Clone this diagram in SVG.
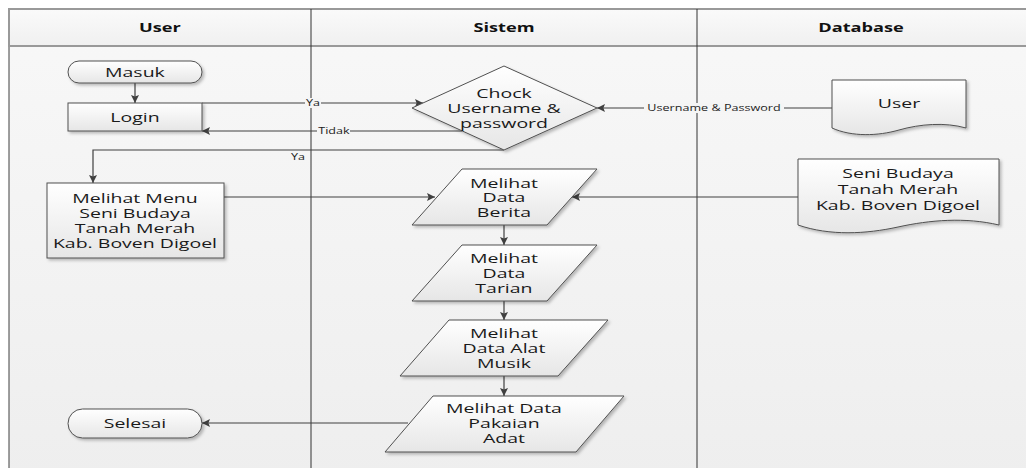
<svg xmlns="http://www.w3.org/2000/svg" width="1026" height="468" viewBox="0 0 1026 468">
<defs>
<linearGradient id="bg" x1="0" y1="0" x2="0" y2="1"><stop offset="0" stop-color="#f8f8f8"/><stop offset="1" stop-color="#eeeeee"/></linearGradient>
<linearGradient id="hd" x1="0" y1="0" x2="0" y2="1"><stop offset="0" stop-color="#fafafa"/><stop offset="1" stop-color="#f0f0f0"/></linearGradient>
<linearGradient id="sh" x1="0" y1="0" x2="0" y2="1"><stop offset="0" stop-color="#ffffff"/><stop offset="1" stop-color="#e6e6e6"/></linearGradient>
<filter id="ds" x="-10%" y="-10%" width="130%" height="140%"><feDropShadow dx="2" dy="2" stdDeviation="1.5" flood-color="#000" flood-opacity="0.25"/></filter>
<marker id="ar" viewBox="0 0 10 10" refX="10" refY="5" markerWidth="9" markerHeight="8" markerUnits="userSpaceOnUse" orient="auto"><path d="M0,0 L10,5 L0,10 L2,5 Z" fill="#404040"/></marker>
</defs>
<style>
.t{font-family:"Open Sans","DejaVu Sans",sans-serif;font-size:13px;fill:#1a1a1a;text-anchor:middle;transform-box:fill-box;transform-origin:center;transform:scaleX(1.5);}
.h{font-family:"Open Sans","DejaVu Sans",sans-serif;font-size:13px;font-weight:bold;fill:#111;text-anchor:middle;transform-box:fill-box;transform-origin:center;transform:scaleX(1.4);}
.l{font-family:"Open Sans","DejaVu Sans",sans-serif;font-size:9px;fill:#222;text-anchor:middle;transform-box:fill-box;transform-origin:center;transform:scaleX(1.4);}
.s{fill:url(#sh);stroke:#505050;stroke-width:1;filter:url(#ds);}
.c{fill:none;stroke:#404040;stroke-width:1.2;}
.a{marker-end:url(#ar);}
.lb{fill:#f5f5f5;}
</style>
<g id="pool">
<rect x="9" y="9" width="1030" height="470" fill="url(#bg)" stroke="#404040" stroke-width="1"/>
<rect x="9" y="9" width="1030" height="37" fill="url(#hd)" stroke="#999" stroke-width="2"/>
<line x1="311" y1="9" x2="311" y2="470" stroke="#333" stroke-width="1"/>
<line x1="697" y1="9" x2="697" y2="470" stroke="#333" stroke-width="1"/>
<text class="h" x="160" y="32">User</text>
<text class="h" x="504" y="32">Sistem</text>
<text class="h" x="861" y="32">Database</text>
</g>
<g id="connectors">
<path class="c a" d="M135,82 V103"/>
<path class="c a" d="M202,103 H423"/>
<rect class="lb" x="305" y="98" width="16" height="10"/>
<text class="l" x="313" y="106">Ya</text>
<path class="c a" d="M462,131 H202"/>
<rect class="lb" x="317" y="126" width="33" height="10"/>
<text class="l" x="334" y="134">Tidak</text>
<path class="c a" d="M504,150 H93 V183"/>
<text class="l" x="298" y="160">Ya</text>
<path class="c a" d="M832,108 H597"/>
<rect class="lb" x="644" y="103" width="140" height="10"/>
<text class="l" x="714" y="111">Username &amp; Password</text>
<path class="c a" d="M224,197 H435"/>
<path class="c a" d="M798,197 H572"/>
<path class="c a" d="M504,225 V245"/>
<path class="c a" d="M504,301 V320"/>
<path class="c a" d="M504,376 V396"/>
<path class="c a" d="M408,423 H202"/>
</g>
<g id="masuk">
<rect class="s" x="68" y="61" width="134" height="22" rx="11" ry="11"/>
<text class="t" x="135" y="77">Masuk</text>
</g>
<g id="login">
<rect class="s" x="68" y="103" width="134" height="28"/>
<text class="t" x="135" y="122">Login</text>
</g>
<g id="check">
<path class="s" d="M412,108 L504,66 L597,108 L504,150 Z"/>
<text class="t" x="504" y="98">Chock<tspan x="504" dy="15">Username &amp;</tspan><tspan x="504" dy="15">password</tspan></text>
</g>
<g id="menu">
<rect class="s" x="47" y="183" width="177" height="75"/>
<text class="t" x="135" y="203">Melihat Menu<tspan x="135" dy="15">Seni Budaya</tspan><tspan x="135" dy="15">Tanah Merah</tspan><tspan x="135" dy="15">Kab. Boven Digoel</tspan></text>
</g>
<g id="berita">
<path class="s" d="M462,169 H597 L547,225 H412 Z"/>
<text class="t" x="504" y="188">Melihat<tspan x="504" dy="14.5">Data</tspan><tspan x="504" dy="14.5">Berita</tspan></text>
</g>
<g id="tarian">
<path class="s" d="M462,245 H597 L547,301 H412 Z"/>
<text class="t" x="504" y="263">Melihat<tspan x="504" dy="15">Data</tspan><tspan x="504" dy="15">Tarian</tspan></text>
</g>
<g id="alat">
<path class="s" d="M449,320 H608 L558,376 H400 Z"/>
<text class="t" x="504" y="338">Melihat<tspan x="504" dy="15">Data Alat</tspan><tspan x="504" dy="15">Musik</tspan></text>
</g>
<g id="pakaian">
<path class="s" d="M433,396 H624 L576,452 H385 Z"/>
<text class="t" x="504" y="413">Melihat Data<tspan x="504" dy="15">Pakaian</tspan><tspan x="504" dy="15">Adat</tspan></text>
</g>
<g id="selesai">
<rect class="s" x="68" y="409" width="134" height="29" rx="14.5" ry="14.5"/>
<text class="t" x="135" y="428">Selesai</text>
</g>
<g id="userdb">
<path class="s" d="M832,80 H966 V128 C945,122 920,124 899,130 C878,136 852,137 832,128 Z"/>
<text class="t" x="899" y="108">User</text>
</g>
<g id="senidb">
<path class="s" d="M798,159 H999 V225 C965,217 930,220 898,227 C866,234 830,236 798,225 Z"/>
<text class="t" x="898" y="178">Seni Budaya<tspan x="898" dy="16">Tanah Merah</tspan><tspan x="898" dy="16">Kab. Boven Digoel</tspan></text>
</g>
</svg>
